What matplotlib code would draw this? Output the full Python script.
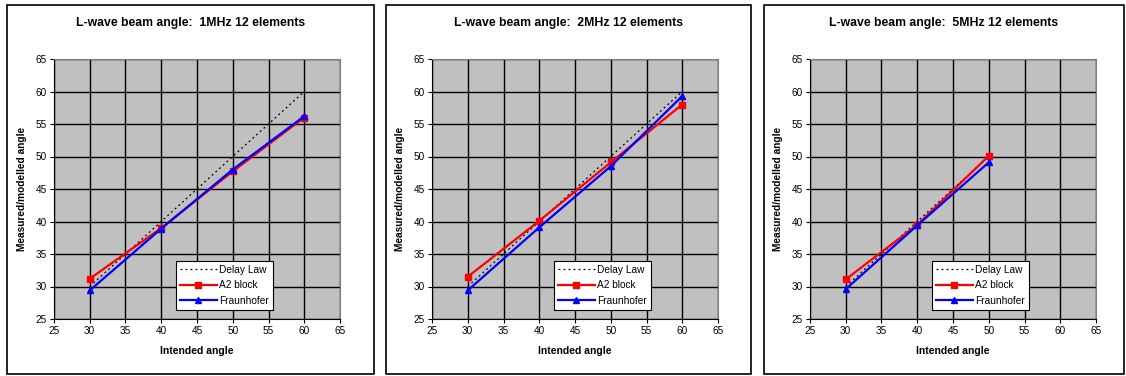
import matplotlib.pyplot as plt
from matplotlib.patches import Rectangle

plt.rcParams['font.family'] = ['Liberation Sans', 'DejaVu Sans']

titles = ['L-wave beam angle:  1MHz 12 elements',
          'L-wave beam angle:  2MHz 12 elements',
          'L-wave beam angle:  5MHz 12 elements']
intended = [[30, 40, 50, 60], [30, 40, 50, 60], [30, 40, 50]]
delay_law = [[30, 40, 50, 60], [30, 40, 50, 60], [30, 40, 50]]
a2_block = [[31.2, 39.0, 47.7, 56.0], [31.5, 40.1, 49.1, 58.0], [31.1, 39.5, 50.1]]
fraunhofer = [[29.4, 38.9, 48.0, 56.2], [29.4, 39.1, 48.5, 59.3], [29.6, 39.4, 49.1]]
ticks = [25, 30, 35, 40, 45, 50, 55, 60, 65]

W, H = 1126, 376
fig = plt.figure(figsize=(W / 100, H / 100), dpi=100)
fig.patch.set_facecolor('white')

# panel borders (pixels): left, right
borders = [(7, 374), (386, 751), (764, 1124)]
ax_left = [54, 432, 810]

for k in range(3):
    bl, br = borders[k]
    fig.patches.append(Rectangle((bl / W, 1 - 374 / H), (br - bl) / W, (374 - 5) / H,
                                 transform=fig.transFigure, fill=False,
                                 edgecolor='black', linewidth=1.2))
    ax = fig.add_axes([ax_left[k] / W, (H - 319) / H, 286 / W, 260 / H])
    ax.set_facecolor('#C0C0C0')
    ax.plot(intended[k], delay_law[k], color='black', linestyle=(0, (1.5, 2.5)),
            linewidth=0.9, label='Delay Law')
    ax.plot(intended[k], a2_block[k], color='#FF0000', marker='s', markersize=4.5,
            linewidth=1.6, label='A2 block')
    ax.plot(intended[k], fraunhofer[k], color='#0000FF', marker='^', markersize=5,
            linewidth=1.6, label='Fraunhofer')
    ax.set_xlim(25, 65)
    ax.set_ylim(25, 65)
    ax.set_xticks(ticks)
    ax.set_yticks(ticks)
    ax.grid(True, color='black', linewidth=1.0)
    ax.set_axisbelow(True)
    for s in ax.spines.values():
        s.set_color('#808080')
    ax.spines['left'].set_color('black')
    ax.spines['bottom'].set_color('black')
    ax.tick_params(labelsize=7.2, length=3, width=0.8, pad=2)
    ax.set_xlabel('Intended angle', fontsize=7.5, fontweight='bold', labelpad=7)
    ax.set_ylabel('Measured/modelled angle', fontsize=7.3, fontweight='bold', labelpad=6)
    leg = ax.legend(loc='lower left', bbox_to_anchor=(0.427, 0.035), fontsize=7.3,
                    frameon=True, fancybox=False, edgecolor='black', framealpha=1,
                    borderpad=0.4, labelspacing=0.55, handlelength=3.6, handletextpad=0.2,
                    borderaxespad=0)
    leg.get_frame().set_linewidth(0.8)
    fig.text((bl + br) / 2 / W, 1 - 23 / H, titles[k], ha='center', va='center',
             fontsize=8.8, fontweight='bold')

fig.savefig('out.png', dpi=100)
